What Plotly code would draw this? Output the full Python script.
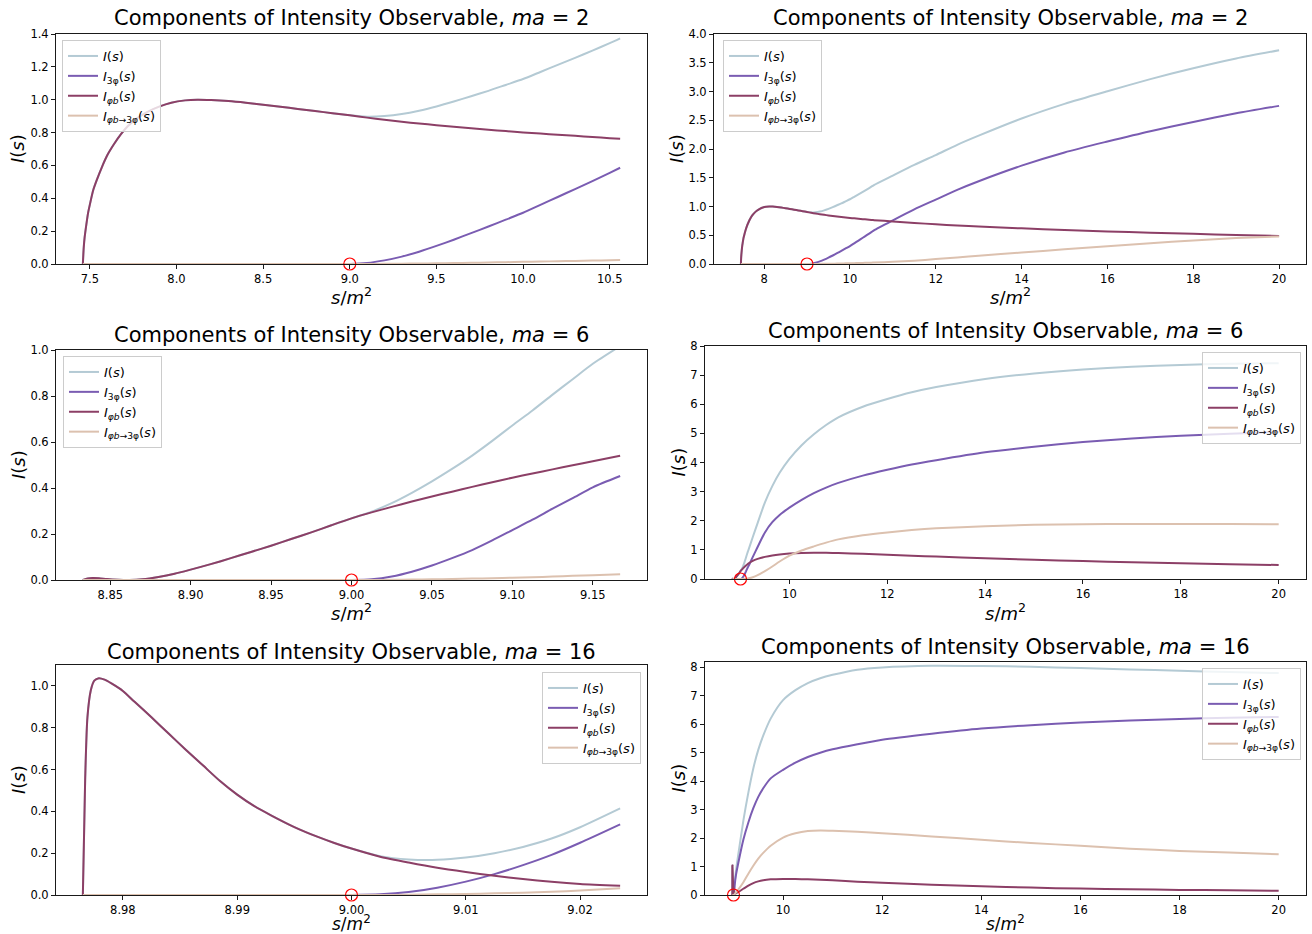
import plotly.graph_objects as go

W, H = 1312, 934
FONT = "DejaVu Sans"

# ---------------- data: ma = 2 ----------------
s_ma2 = [7.46, 7.465, 7.47, 7.48, 7.49, 7.50, 7.52, 7.54, 7.57, 7.60, 7.64, 7.68, 7.72, 7.77,
         7.83, 7.90, 7.97, 8.05, 8.12, 8.20, 8.30, 8.40, 8.50, 8.60, 8.70, 8.80, 8.90, 9.00,
         9.10, 9.20, 9.30, 9.40, 9.50, 9.60, 9.70, 9.80, 9.90, 10.00, 10.10, 10.20, 10.30,
         10.40, 10.50, 10.56, 11.0, 11.5, 12.0, 12.5, 13.0, 14.0, 15.0, 16.0, 17.0, 18.0, 19.0, 20.0]
Ib_ma2 = [0.0, 0.10, 0.16, 0.24, 0.31, 0.36, 0.45, 0.51, 0.59, 0.66, 0.73, 0.79, 0.84, 0.885,
          0.925, 0.958, 0.982, 0.996, 1.000, 0.998, 0.992, 0.982, 0.970, 0.957, 0.944, 0.931, 0.918, 0.905,
          0.891, 0.878, 0.866, 0.855, 0.845, 0.835, 0.826, 0.817, 0.809, 0.801, 0.794, 0.787, 0.780,
          0.773, 0.766, 0.762, 0.740, 0.715, 0.690, 0.670, 0.650, 0.620, 0.590, 0.565, 0.545, 0.525, 0.505, 0.487]
I3_ma2 = [0.0] * 28 + [0.006, 0.022, 0.045, 0.075, 0.110, 0.148, 0.188, 0.228, 0.270, 0.312, 0.360, 0.408,
                       0.456, 0.505, 0.555, 0.586, 0.76, 0.95, 1.12, 1.29, 1.44, 1.71, 1.94, 2.13, 2.31,
                       2.47, 2.62, 2.75]
Ibt_ma2 = [0.0] * 29 + [0.001, 0.002, 0.003, 0.004, 0.006, 0.007, 0.009, 0.011, 0.013, 0.015, 0.017,
                        0.019, 0.021, 0.023, 0.025, 0.038, 0.058, 0.085, 0.113, 0.142, 0.20, 0.255, 0.31,
                        0.36, 0.41, 0.45, 0.48]
I_ma2 = Ib_ma2[:28] + [0.897, 0.901, 0.913, 0.933, 0.959, 0.989, 1.021, 1.054, 1.090, 1.126, 1.169, 1.212,
                       1.255, 1.299, 1.344, 1.373, 1.538, 1.723, 1.895, 2.073, 2.232, 2.53, 2.785, 3.005,
                       3.215, 3.405, 3.575, 3.717]

# ---------------- data: ma = 6 ----------------
s_ma6 = [8.833, 8.836, 8.839, 8.843, 8.848, 8.855, 8.862, 8.870, 8.880, 8.890, 8.900, 8.9125, 8.925,
         8.9375, 8.950, 8.9625, 8.975, 8.9875, 9.000, 9.0125, 9.025, 9.0375, 9.050, 9.0625, 9.075,
         9.0875, 9.100, 9.1125, 9.125, 9.1375, 9.150, 9.167, 9.25, 9.35, 9.50, 9.65, 9.80, 10.0,
         10.25, 10.5, 10.75, 11.0, 11.5, 12.0, 12.5, 13.0, 14.0, 15.0, 16.0, 17.0, 18.0, 19.0, 20.0]
Ib_ma6 = [0.0, 0.007, 0.009, 0.008, 0.004, 0.001, 0.0, 0.003, 0.013, 0.027, 0.045, 0.069, 0.095,
          0.122, 0.149, 0.178, 0.207, 0.238, 0.268, 0.294, 0.318, 0.341, 0.363, 0.384, 0.405,
          0.425, 0.445, 0.463, 0.481, 0.499, 0.516, 0.540, 0.625, 0.69, 0.76, 0.81, 0.845, 0.875,
          0.895, 0.90, 0.897, 0.89, 0.865, 0.83, 0.80, 0.77, 0.71, 0.66, 0.615, 0.575, 0.54, 0.51, 0.48]
I3_ma6 = [0.0] * 19 + [0.003, 0.015, 0.036, 0.063, 0.095, 0.130, 0.172, 0.217, 0.262, 0.310, 0.356,
                       0.403, 0.452, 0.75, 1.10, 1.60, 1.95, 2.20, 2.45, 2.72, 2.95, 3.14, 3.30, 3.55,
                       3.75, 3.93, 4.08, 4.35, 4.54, 4.70, 4.82, 4.92, 4.99, 5.05]
Ibt_ma6 = [0.0] * 20 + [0.001, 0.002, 0.003, 0.004, 0.006, 0.008, 0.010, 0.012, 0.015, 0.018, 0.021,
                        0.025, 0.06, 0.13, 0.27, 0.43, 0.60, 0.80, 0.98, 1.12, 1.25, 1.36, 1.50, 1.60,
                        1.68, 1.74, 1.81, 1.86, 1.88, 1.89, 1.89, 1.89, 1.88]
I_ma6 = Ib_ma6[:19] + [0.297, 0.334, 0.379, 0.429, 0.483, 0.541, 0.605, 0.672, 0.737, 0.806, 0.873,
                       0.940, 1.017, 1.435, 1.92, 2.63, 3.19, 3.645, 4.125, 4.595, 4.97, 5.287, 5.55,
                       5.915, 6.18, 6.41, 6.59, 6.87, 7.06, 7.195, 7.285, 7.35, 7.39, 7.41]

# ---------------- data: ma = 16 ----------------
s_ma16 = [8.9765, 8.9767, 8.9769, 8.9772, 8.9775, 8.9779, 8.9784, 8.9790, 8.9800, 8.9810, 8.9825,
          8.9840, 8.9855, 8.9870, 8.9885, 8.9900, 8.9915, 8.9930, 8.9950, 8.9970, 8.9985, 9.0000,
          9.0025, 9.0050, 9.0075, 9.0100, 9.0125, 9.0150, 9.0175, 9.0200, 9.0235, 9.05, 9.10, 9.20,
          9.30, 9.40, 9.50, 9.60, 9.75, 10.0, 10.25, 10.5, 10.75, 11.0, 11.5, 12.0, 13.0, 14.0,
          15.0, 16.0, 17.0, 18.0, 19.0, 20.0]
Ib_ma16 = [0.0, 0.55, 0.85, 0.98, 1.025, 1.037, 1.03, 1.012, 0.976, 0.925, 0.85, 0.772, 0.695, 0.62,
           0.545, 0.48, 0.425, 0.38, 0.325, 0.279, 0.249, 0.222, 0.183, 0.155, 0.13, 0.11, 0.092,
           0.076, 0.063, 0.053, 0.044, 0.06, 0.11, 0.22, 0.33, 0.42, 0.48, 0.52, 0.55, 0.565, 0.56,
           0.55, 0.535, 0.515, 0.47, 0.43, 0.36, 0.305, 0.26, 0.225, 0.20, 0.18, 0.165, 0.15]
I3_ma16 = [0.0] * 22 + [0.003, 0.014, 0.035, 0.064, 0.100, 0.143, 0.192, 0.250, 0.338, 0.70, 1.15,
                        1.95, 2.55, 3.05, 3.45, 3.75, 4.10, 4.40, 4.65, 4.85, 5.00, 5.12, 5.30, 5.46,
                        5.67, 5.85, 5.97, 6.06, 6.13, 6.19, 6.23, 6.26]
Ibt_ma16 = [0.0] * 23 + [0.001, 0.003, 0.005, 0.008, 0.011, 0.015, 0.021, 0.032, 0.09, 0.20, 0.45,
                         0.75, 1.03, 1.28, 1.48, 1.73, 2.02, 2.17, 2.25, 2.27, 2.26, 2.22, 2.17, 2.06,
                         1.94, 1.83, 1.73, 1.63, 1.55, 1.49, 1.43]
I_ma16 = Ib_ma16[:22] + [0.186, 0.170, 0.168, 0.179, 0.200, 0.230, 0.270, 0.324, 0.414, 0.85, 1.46,
                         2.62, 3.60, 4.45, 5.10, 5.60, 6.20, 6.85, 7.20, 7.45, 7.62, 7.74, 7.92, 8.00,
                         8.06, 8.05, 8.02, 7.98, 7.93, 7.88, 7.84, 7.80]

threshold_s = 9.0
zoom_end = {2: 10.56, 6: 9.167, 16: 9.0235}

series_names = ["<i>I</i>(<i>s</i>)",
                "<i>I</i><sub>3φ</sub>(<i>s</i>)",
                "<i>I</i><sub><i>φb</i></sub>(<i>s</i>)",
                "<i>I</i><sub><i>φb</i>→3φ</sub>(<i>s</i>)"]
series_colors = ["#b4cad4", "#7a5cb2", "#8c3f66", "#dcc1af"]

data = {
    2: (s_ma2, [I_ma2, I3_ma2, Ib_ma2, Ibt_ma2]),
    6: (s_ma6, [I_ma6, I3_ma6, Ib_ma6, Ibt_ma6]),
    16: (s_ma16, [I_ma16, I3_ma16, Ib_ma16, Ibt_ma16]),
}

# panel layout in pixels
panels = [
    (2, True, 56, 647, 34, 264, [0, 1.4], 0.2, ".1f", 7.5, 0.5, ".1f", 18, 296, 18, (62, 40, "left")),
    (2, False, 714, 1306, 34, 264, [0, 4.0], 0.5, ".1f", 8, 2, "d", 18, 296, 677, (723, 40, "left")),
    (6, True, 56, 647, 350, 580, [0, 1.0], 0.2, ".1f", 8.85, 0.05, ".2f", 335, 612, 18, (63, 356, "left")),
    (6, False, 705, 1306, 346, 579, [0, 8.0], 1, "d", 10, 2, "d", 331, 612, 678, (1301, 352, "right")),
    (16, True, 56, 647, 665, 895, [0, 1.1], 0.2, ".1f", 8.98, 0.01, ".2f", 652, None, 18, (641, 672, "right")),
    (16, False, 705, 1306, 662, 895, [0, 8.19], 1, "d", 10, 2, "d", 647, None, 678, (1301, 668, "right")),
]

fig = go.Figure()
annotations = []
layout = dict(width=W, height=H, margin=dict(l=0, r=0, t=0, b=0),
              paper_bgcolor="white", plot_bgcolor="white",
              font=dict(family=FONT, color="#000"), showlegend=True)

for k, (ma, zoomed, x0, x1, yt, yb, yr, ydt, yfmt, xt0, xdt, xfmt, ty, xly, ylx, leg) in enumerate(panels, start=1):
    s, ys = data[ma]
    if zoomed:
        idx = [i for i, v in enumerate(s) if v <= zoom_end[ma] + 1e-9]
    else:
        idx = list(range(len(s)))
    xs = [s[i] for i in idx]
    xa = "x" if k == 1 else f"x{k}"
    ya = "y" if k == 1 else f"y{k}"
    lg = "legend" if k == 1 else f"legend{k}"
    for name, col, arr in zip(series_names, series_colors, ys):
        fig.add_trace(go.Scatter(x=xs, y=[arr[i] for i in idx], mode="lines", name=name,
                                 line=dict(color=col, width=2, shape="spline", smoothing=0.7),
                                 xaxis=xa, yaxis=ya, legend=lg))
    fig.add_trace(go.Scatter(x=[threshold_s], y=[0.0], mode="markers", showlegend=False,
                             marker=dict(symbol="circle-open", size=12, color="red",
                                         line=dict(width=1.2, color="red")),
                             cliponaxis=False, xaxis=xa, yaxis=ya))
    span = max(xs) - min(xs)
    xrng = [min(xs) - 0.05 * span, max(xs) + 0.05 * span]
    common = dict(showline=True, mirror=True, linecolor="#1a1a1a", linewidth=1, ticks="outside",
                  ticklen=4, tickwidth=1, tickcolor="#1a1a1a", showgrid=False, zeroline=False,
                  automargin=False, tickfont=dict(family=FONT, size=11.5, color="#000"))
    layout["xaxis" if k == 1 else f"xaxis{k}"] = dict(
        domain=[x0 / W, x1 / W], anchor=ya, range=xrng, tick0=xt0, dtick=xdt, tickformat=xfmt, **common)
    layout["yaxis" if k == 1 else f"yaxis{k}"] = dict(
        domain=[1 - yb / H, 1 - yt / H], anchor=xa, range=yr, tick0=0, dtick=ydt, tickformat=yfmt, **common)
    lx, lyy, anc = leg
    layout[lg] = dict(x=lx / W, y=1 - lyy / H, xanchor=anc, yanchor="top", xref="paper", yref="paper",
                      bgcolor="rgba(255,255,255,0.8)", bordercolor="#cccccc", borderwidth=1,
                      font=dict(family=FONT, size=13, color="#000"), itemwidth=30, tracegroupgap=0)
    cx = (x0 + x1) / 2 / W
    annotations.append(dict(text=f"Components of Intensity Observable, <i>ma</i> = {ma}",
                            x=cx, y=1 - ty / H, xref="paper", yref="paper", showarrow=False,
                            xanchor="center", yanchor="middle", font=dict(family=FONT, size=21, color="#000")))
    if xly is None:
        annotations.append(dict(text="<i>s</i>/<i>m</i><sup>2</sup>", x=cx, y=0.0, xref="paper",
                                yref="paper", showarrow=False, xanchor="center", yanchor="bottom",
                                borderpad=0, yshift=-1, font=dict(family=FONT, size=17, color="#000")))
    else:
        annotations.append(dict(text="<i>s</i>/<i>m</i><sup>2</sup>", x=cx, y=1 - xly / H, xref="paper",
                                yref="paper", showarrow=False, xanchor="center", yanchor="middle",
                                font=dict(family=FONT, size=18, color="#000")))
    annotations.append(dict(text="<i>I</i>(<i>s</i>)", x=ylx / W, y=1 - (yt + yb) / 2 / H, xref="paper",
                            yref="paper", showarrow=False, xanchor="center", yanchor="middle",
                            textangle=-90, font=dict(family=FONT, size=18, color="#000")))

layout["annotations"] = annotations
fig.update_layout(**layout)
fig.write_html("out.html")
